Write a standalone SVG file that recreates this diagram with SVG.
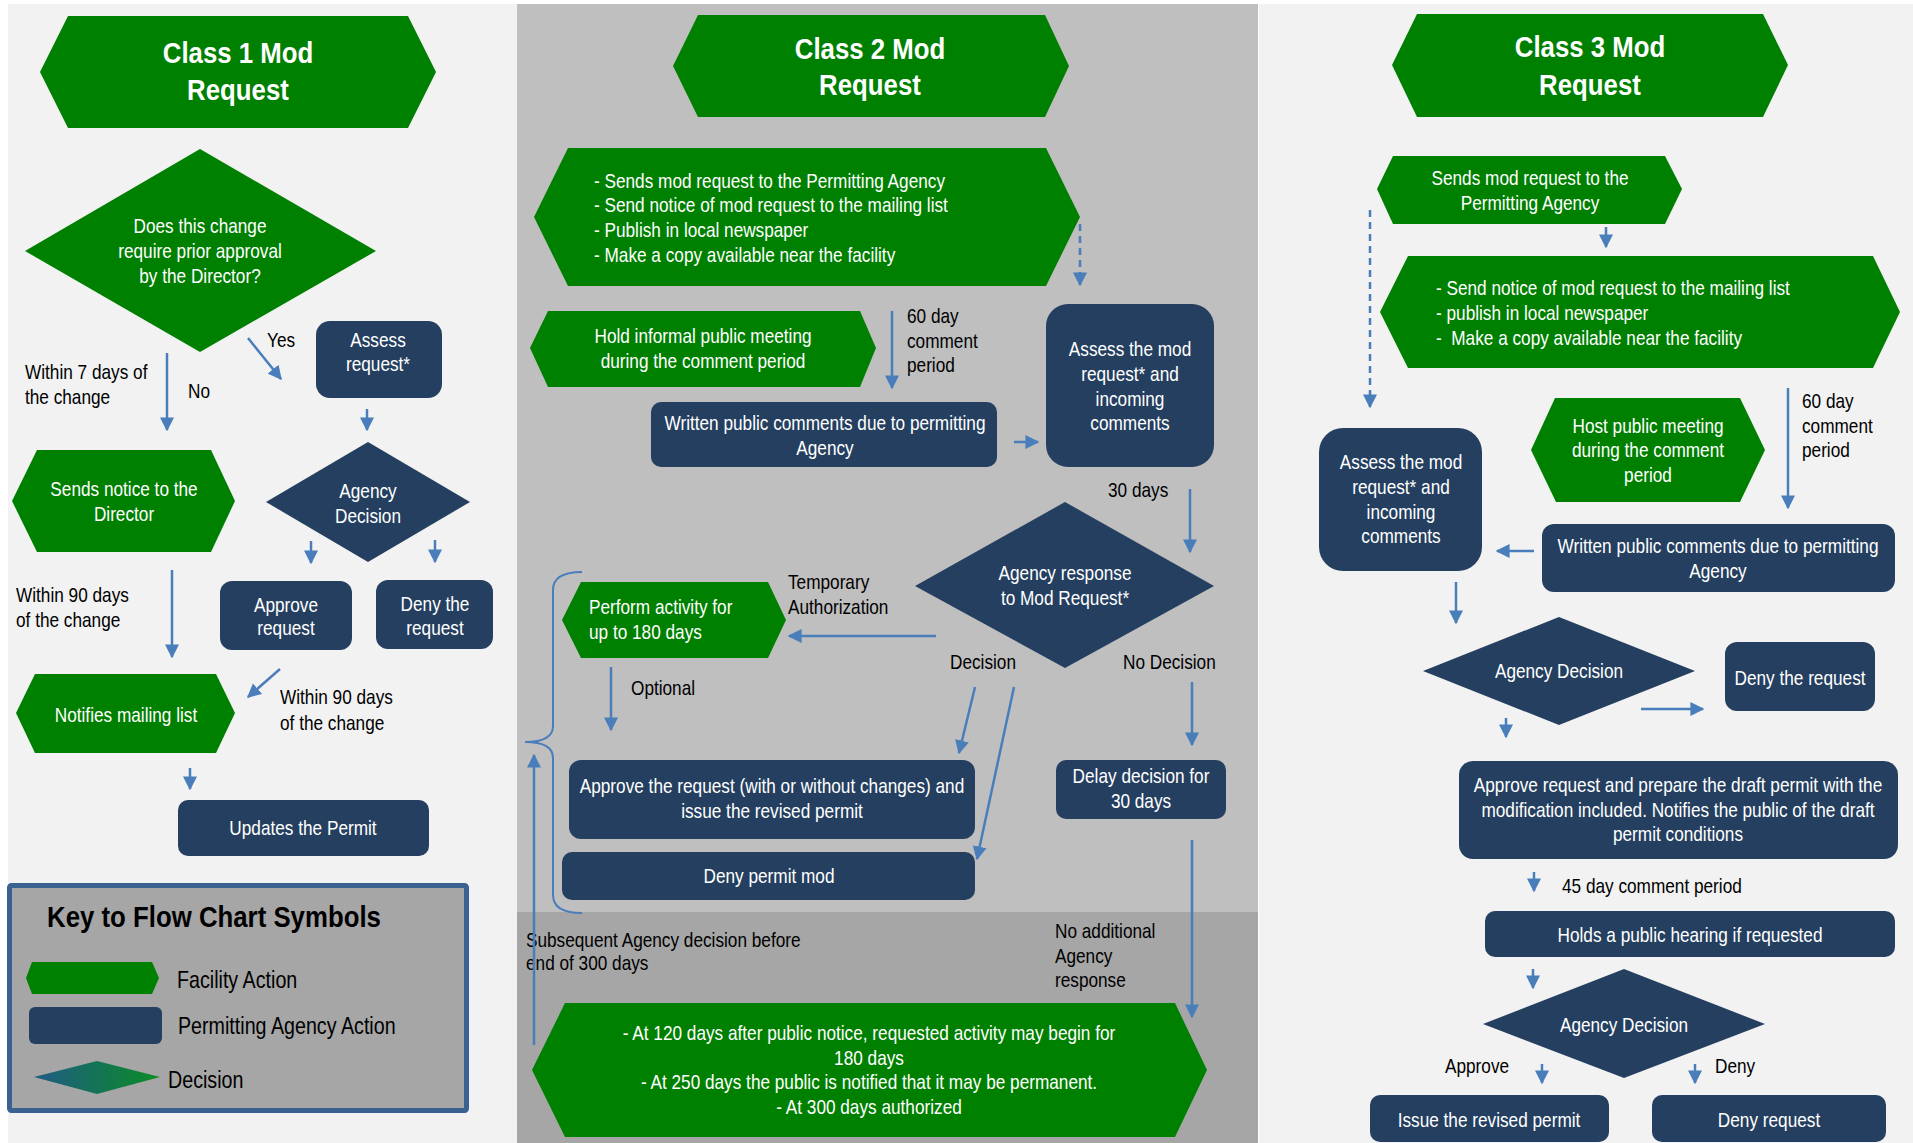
<svg xmlns="http://www.w3.org/2000/svg" width="1913" height="1143" viewBox="0 0 1913 1143">
<style>
text{font-family:"Liberation Sans",Arial,sans-serif;font-size:21px}
.w{fill:#fff}.k{fill:#000}.c{text-anchor:middle}
.h{font-weight:bold;font-size:30px}
.lg{font-size:24px}
.g{fill:#008000}.n{fill:#253f60}
.cn line,.cn path{stroke:#4a7ebb;stroke-width:2.5;fill:none}
.cn .a{marker-end:url(#ah)}
.cn .d{stroke-dasharray:7 5}
</style>
<defs>
<marker id="ah" viewBox="0 0 10 10" refX="9" refY="5" markerWidth="14" markerHeight="15" markerUnits="userSpaceOnUse" orient="auto"><path d="M0,0 L10,5 L0,10 z" fill="#4a7ebb"/></marker>
<linearGradient id="gd" x1="0" y1="0" x2="1" y2="0"><stop offset="0" stop-color="#1f5b86"/><stop offset="1" stop-color="#0a8c24"/></linearGradient>
</defs>
<rect width="1913" height="1143" fill="#fff"/>
<rect x="8" y="4" width="509" height="1139" fill="#f2f2f2"/>
<rect x="517" y="4" width="741" height="908" fill="#bfbfbf"/>
<rect x="517" y="912" width="741" height="231" fill="#a6a6a6"/>
<rect x="1259" y="4" width="654" height="1139" fill="#f2f2f2"/>

<!-- Class 1 -->
<g id="c1-title"><polygon class="g" points="40,72 68,16 408,16 436,72 408,128 68,128"/><text class="w c h" transform="translate(238 63) scale(.86 1)"><tspan x="0" y="0">Class 1 Mod</tspan><tspan x="0" y="37">Request</tspan></text></g>
<g id="c1-decision"><polygon class="g" points="25,251 200,149 376,251 200,352"/><text class="w c" transform="translate(200 233) scale(.82 1)"><tspan x="0" y="0">Does this change</tspan><tspan x="0" y="25">require prior approval</tspan><tspan x="0" y="50">by the Director?</tspan></text></g>
<g id="c1-assess"><rect class="n" x="316" y="321" width="126" height="77" rx="14"/><text class="w c" transform="translate(378 347) scale(.82 1)"><tspan x="0" y="0">Assess</tspan><tspan x="0" y="24">request*</tspan></text></g>
<g id="c1-sends"><polygon class="g" points="12,501 37,450 211,450 235,501 211,552 37,552"/><text class="w c" transform="translate(124 496) scale(.82 1)"><tspan x="0" y="0">Sends notice to the</tspan><tspan x="0" y="25">Director</tspan></text></g>
<g id="c1-agency"><polygon class="n" points="266,502 368,442 470,502 368,562"/><text class="w c" transform="translate(368 498) scale(.82 1)"><tspan x="0" y="0">Agency</tspan><tspan x="0" y="25">Decision</tspan></text></g>
<g id="c1-approve"><rect class="n" x="220" y="581" width="132" height="69" rx="12"/><text class="w c" transform="translate(286 612) scale(.82 1)"><tspan x="0" y="0">Approve</tspan><tspan x="0" y="23">request</tspan></text></g>
<g id="c1-deny"><rect class="n" x="376" y="580" width="117" height="69" rx="12"/><text class="w c" transform="translate(435 611) scale(.82 1)"><tspan x="0" y="0">Deny the</tspan><tspan x="0" y="24">request</tspan></text></g>
<g id="c1-notifies"><polygon class="g" points="16,713 35,674 216,674 235,713 216,753 35,753"/><text class="w c" transform="translate(126 722) scale(.82 1)">Notifies mailing list</text></g>
<g id="c1-updates"><rect class="n" x="178" y="800" width="251" height="56" rx="10"/><text class="w c" transform="translate(303 835) scale(.82 1)">Updates the Permit</text></g>
<g id="c1-labels" class="k">
<text transform="translate(267 347) scale(.82 1)">Yes</text>
<text transform="translate(188 398) scale(.82 1)">No</text>
<text transform="translate(25 379) scale(.82 1)"><tspan x="0" y="0">Within 7 days of</tspan><tspan x="0" y="25">the change</tspan></text>
<text transform="translate(16 602) scale(.82 1)"><tspan x="0" y="0">Within 90 days</tspan><tspan x="0" y="25">of the change</tspan></text>
<text transform="translate(280 704) scale(.82 1)"><tspan x="0" y="0">Within 90 days</tspan><tspan x="0" y="26">of the change</tspan></text>
</g>

<!-- Key -->
<g id="key">
<rect x="9.5" y="885.5" width="457" height="225" fill="#a6a6a6" stroke="#3b6190" stroke-width="5" rx="2"/>
<text class="k h" transform="translate(47 927) scale(.86 1)">Key to Flow Chart Symbols</text>
<polygon class="g" points="26,978 32,962 152,962 159,978 152,994 32,994"/>
<text class="k lg" transform="translate(177 988) scale(.82 1)">Facility Action</text>
<rect class="n" x="29" y="1007" width="133" height="37" rx="6"/>
<text class="k lg" transform="translate(178 1034) scale(.82 1)">Permitting Agency Action</text>
<polygon fill="url(#gd)" points="34,1077 97,1061 160,1077 97,1094"/>
<text class="k lg" transform="translate(168 1088) scale(.82 1)">Decision</text>
</g>

<!-- Class 2 -->
<g id="c2-title"><polygon class="g" points="673,66 698,15 1045,15 1069,66 1045,117 698,117"/><text class="w c h" transform="translate(870 59) scale(.86 1)"><tspan x="0" y="0">Class 2 Mod</tspan><tspan x="0" y="36">Request</tspan></text></g>
<g id="c2-send"><polygon class="g" points="534,217 568,148 1046,148 1080,217 1046,286 568,286"/><text class="w" transform="translate(594 188) scale(.82 1)"><tspan x="0" y="0">- Sends mod request to the Permitting Agency</tspan><tspan x="0" y="24.5">- Send notice of mod request to the mailing list</tspan><tspan x="0" y="49">- Publish in local newspaper</tspan><tspan x="0" y="74">- Make a copy available near the facility</tspan></text></g>
<g id="c2-meeting"><polygon class="g" points="530,348 548,311 860,311 876,348 860,387 548,387"/><text class="w c" transform="translate(703 343) scale(.82 1)"><tspan x="0" y="0">Hold informal public meeting</tspan><tspan x="0" y="25">during the comment period</tspan></text></g>
<g id="c2-written"><rect class="n" x="651" y="402" width="346" height="65" rx="10"/><text class="w c" transform="translate(825 430) scale(.82 1)"><tspan x="0" y="0">Written public comments due to permitting</tspan><tspan x="0" y="25">Agency</tspan></text></g>
<g id="c2-assess"><rect class="n" x="1046" y="304" width="168" height="163" rx="22"/><text class="w c" transform="translate(1130 356) scale(.82 1)"><tspan x="0" y="0">Assess the mod</tspan><tspan x="0" y="25">request* and</tspan><tspan x="0" y="50">incoming</tspan><tspan x="0" y="74">comments</tspan></text></g>
<g id="c2-response"><polygon class="n" points="915,586 1065,502 1214,586 1065,668"/><text class="w c" transform="translate(1065 580) scale(.82 1)"><tspan x="0" y="0">Agency response</tspan><tspan x="0" y="25">to Mod Request*</tspan></text></g>
<g id="c2-perform"><polygon class="g" points="562,620 581,582 768,582 786,620 768,658 581,658"/><text class="w" transform="translate(589 614) scale(.82 1)"><tspan x="0" y="0">Perform activity for</tspan><tspan x="0" y="25">up to 180 days</tspan></text></g>
<g id="c2-approve"><rect class="n" x="569" y="760" width="406" height="79" rx="12"/><text class="w c" transform="translate(772 793) scale(.82 1)"><tspan x="0" y="0">Approve the request (with or without changes) and</tspan><tspan x="0" y="25">issue the revised permit</tspan></text></g>
<g id="c2-deny"><rect class="n" x="562" y="852" width="413" height="48" rx="10"/><text class="w c" transform="translate(769 883) scale(.82 1)">Deny permit mod</text></g>
<g id="c2-delay"><rect class="n" x="1056" y="760" width="170" height="59" rx="10"/><text class="w c" transform="translate(1141 783) scale(.82 1)"><tspan x="0" y="0">Delay decision for</tspan><tspan x="0" y="25">30 days</tspan></text></g>
<g id="c2-final"><polygon class="g" points="532,1070 565,1003 1175,1003 1207,1070 1175,1137 565,1137"/><text class="w c" transform="translate(869 1040) scale(.82 1)"><tspan x="0" y="0">- At 120 days after public notice, requested activity may begin for</tspan><tspan x="0" y="25">180 days</tspan><tspan x="0" y="49">- At 250 days the public is notified that it may be permanent.</tspan><tspan x="0" y="74">- At 300 days authorized</tspan></text></g>
<g id="c2-labels" class="k">
<text transform="translate(907 323) scale(.82 1)"><tspan x="0" y="0">60 day</tspan><tspan x="0" y="25">comment</tspan><tspan x="0" y="49">period</tspan></text>
<text transform="translate(1108 497) scale(.82 1)">30 days</text>
<text transform="translate(788 589) scale(.82 1)"><tspan x="0" y="0">Temporary</tspan><tspan x="0" y="25">Authorization</tspan></text>
<text transform="translate(950 669) scale(.82 1)">Decision</text>
<text transform="translate(1123 669) scale(.82 1)">No Decision</text>
<text transform="translate(631 695) scale(.82 1)">Optional</text>
<text transform="translate(526 947) scale(.82 1)"><tspan x="0" y="0">Subsequent Agency decision before</tspan><tspan x="0" y="23">end of 300 days</tspan></text>
<text transform="translate(1055 938) scale(.82 1)"><tspan x="0" y="0">No additional</tspan><tspan x="0" y="25">Agency</tspan><tspan x="0" y="49">response</tspan></text>
</g>

<!-- Class 3 -->
<g id="c3-title"><polygon class="g" points="1392,65 1417,14 1763,14 1788,65 1763,117 1417,117"/><text class="w c h" transform="translate(1590 57) scale(.86 1)"><tspan x="0" y="0">Class 3 Mod</tspan><tspan x="0" y="38">Request</tspan></text></g>
<g id="c3-sends"><polygon class="g" points="1377,189 1393,156 1665,156 1682,189 1665,224 1393,224"/><text class="w c" transform="translate(1530 185) scale(.82 1)"><tspan x="0" y="0">Sends mod request to the</tspan><tspan x="0" y="25">Permitting Agency</tspan></text></g>
<g id="c3-notice"><polygon class="g" points="1380,312 1408,256 1873,256 1900,312 1873,368 1408,368"/><text class="w" transform="translate(1436 295) scale(.82 1)"><tspan x="0" y="0">- Send notice of mod request to the mailing list</tspan><tspan x="0" y="25">- publish in local newspaper</tspan></text><text class="w" xml:space="preserve" style="white-space:pre" transform="translate(1436 345) scale(.82 1)">-  Make a copy available near the facility</text></g>
<g id="c3-meeting"><polygon class="g" points="1531,450 1555,398 1740,398 1765,450 1740,502 1556,502"/><text class="w c" transform="translate(1648 433) scale(.82 1)"><tspan x="0" y="0">Host public meeting</tspan><tspan x="0" y="24">during the comment</tspan><tspan x="0" y="49">period</tspan></text></g>
<g id="c3-assess"><rect class="n" x="1319" y="428" width="163" height="143" rx="24"/><text class="w c" transform="translate(1401 469) scale(.82 1)"><tspan x="0" y="0">Assess the mod</tspan><tspan x="0" y="25">request* and</tspan><tspan x="0" y="50">incoming</tspan><tspan x="0" y="74">comments</tspan></text></g>
<g id="c3-written"><rect class="n" x="1542" y="524" width="353" height="68" rx="12"/><text class="w c" transform="translate(1718 553) scale(.82 1)"><tspan x="0" y="0">Written public comments due to permitting</tspan><tspan x="0" y="25">Agency</tspan></text></g>
<g id="c3-decision1"><polygon class="n" points="1423,671 1559,617 1695,671 1559,725"/><text class="w c" transform="translate(1559 678) scale(.82 1)">Agency Decision</text></g>
<g id="c3-deny1"><rect class="n" x="1725" y="642" width="150" height="69" rx="12"/><text class="w c" transform="translate(1800 685) scale(.82 1)">Deny the request</text></g>
<g id="c3-approve"><rect class="n" x="1459" y="761" width="439" height="98" rx="14"/><text class="w c" transform="translate(1678 792) scale(.82 1)"><tspan x="0" y="0">Approve request and prepare the draft permit with the</tspan><tspan x="0" y="25">modification included. Notifies the public of the draft</tspan><tspan x="0" y="49">permit conditions</tspan></text></g>
<g id="c3-hearing"><rect class="n" x="1485" y="911" width="410" height="46" rx="10"/><text class="w c" transform="translate(1690 942) scale(.82 1)">Holds a public hearing if requested</text></g>
<g id="c3-decision2"><polygon class="n" points="1483,1024 1624,969 1765,1024 1624,1078"/><text class="w c" transform="translate(1624 1032) scale(.82 1)">Agency Decision</text></g>
<g id="c3-issue"><rect class="n" x="1370" y="1095" width="239" height="47" rx="10"/><text class="w c" transform="translate(1489 1127) scale(.82 1)">Issue the revised permit</text></g>
<g id="c3-deny2"><rect class="n" x="1652" y="1095" width="234" height="47" rx="10"/><text class="w c" transform="translate(1769 1127) scale(.82 1)">Deny request</text></g>
<g id="c3-labels" class="k">
<text transform="translate(1802 408) scale(.82 1)"><tspan x="0" y="0">60 day</tspan><tspan x="0" y="25">comment</tspan><tspan x="0" y="49">period</tspan></text>
<text transform="translate(1562 893) scale(.82 1)">45 day comment period</text>
<text transform="translate(1445 1073) scale(.82 1)">Approve</text>
<text transform="translate(1715 1073) scale(.82 1)">Deny</text>
</g>

<!-- Connectors -->
<g id="connectors" class="cn">
<line class="a" x1="248" y1="338" x2="281" y2="379"/>
<line class="a" x1="167" y1="353" x2="167" y2="430"/>
<line class="a" x1="367" y1="409" x2="367" y2="430"/>
<line class="a" x1="311" y1="541" x2="311" y2="563"/>
<line class="a" x1="435" y1="540" x2="435" y2="562"/>
<line class="a" x1="172" y1="570" x2="172" y2="657"/>
<line class="a" x1="280" y1="669" x2="248" y2="697"/>
<line class="a" x1="190" y1="768" x2="190" y2="789"/>

<line class="a d" x1="1080" y1="224" x2="1080" y2="285"/>
<line class="a" x1="892" y1="311" x2="892" y2="388"/>
<line class="a" x1="1014" y1="442" x2="1038" y2="442"/>
<line class="a" x1="1190" y1="489" x2="1190" y2="552"/>
<line class="a" x1="936" y1="636" x2="789" y2="636"/>
<line class="a" x1="611" y1="667" x2="611" y2="730"/>
<line class="a" x1="975" y1="687" x2="959" y2="753"/>
<line class="a" x1="1014" y1="687" x2="977" y2="859"/>
<line class="a" x1="1192" y1="682" x2="1192" y2="745"/>
<line class="a" x1="1192" y1="840" x2="1192" y2="1017"/>
<line class="a" x1="534" y1="1045" x2="534" y2="755"/>
<path style="stroke-width:2" d="M582,572 Q553,572 553,590 L553,726 Q553,742 525,742 Q553,742 553,758 L553,895 Q553,913 582,913"/>

<line class="a d" x1="1370" y1="210" x2="1370" y2="407"/>
<line class="a" x1="1606" y1="227" x2="1606" y2="247"/>
<line class="a" x1="1788" y1="388" x2="1788" y2="508"/>
<line class="a" x1="1534" y1="551" x2="1497" y2="551"/>
<line class="a" x1="1456" y1="582" x2="1456" y2="623"/>
<line class="a" x1="1641" y1="709" x2="1703" y2="709"/>
<line class="a" x1="1506" y1="718" x2="1506" y2="737"/>
<line class="a" x1="1534" y1="872" x2="1534" y2="891"/>
<line class="a" x1="1533" y1="969" x2="1533" y2="988"/>
<line class="a" x1="1542" y1="1064" x2="1542" y2="1083"/>
<line class="a" x1="1695" y1="1064" x2="1695" y2="1083"/>
</g>
</svg>
